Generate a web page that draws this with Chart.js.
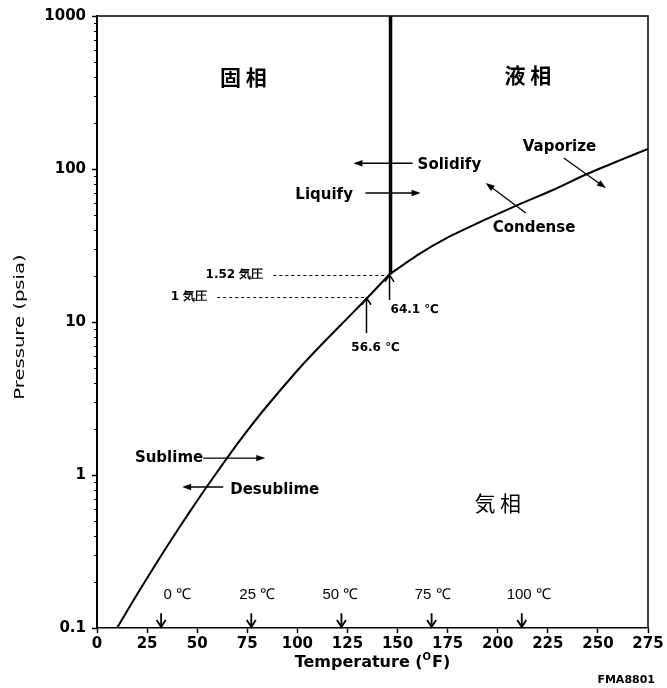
<!DOCTYPE html>
<html>
<head>
<meta charset="utf-8">
<script src="https://cdn.jsdelivr.net/npm/chart.js@4.4.1/dist/chart.umd.min.js"></script>
<style>
  html, body { margin: 0; padding: 0; background: #fff; }
  canvas { display: block; }
</style>
</head>
<body>
<canvas id="phaseChart" width="667" height="688"></canvas>
<script>
// sublimation curve (solid <-> gas), temperature in °F, pressure in psia
const sublimeTemp = [10, 20.5, 29, 37.5, 45.5, 54, 63, 70.5, 83, 100, 111.5, 125, 135, 146];
const sublimePress = [0.1, 0.170, 0.257, 0.385, 0.555, 0.81, 1.19, 1.63, 2.64, 4.82, 7.0, 10.6, 14.4, 20.5];

// vaporization curve (liquid <-> gas)
const vaporTemp = [146, 160.5, 174, 194, 209, 227.5, 244, 260.5, 275];
const vaporPress = [20.5, 27.7, 35.1, 46.8, 57.4, 72.9, 92.1, 113.4, 135.5];

// melting line (solid <-> liquid)
const meltTemp = [146.5, 146.5];
const meltPress = [20.5, 1000];

// reference pressures (dashed lines)
const atmLabels = ['1 気圧', '1.52 気圧'];
const atmPress = [14.5, 20.4];
const atmTempFrom = [60, 88];
const atmTempTo = [133.5, 146];

// celsius markers along the temperature axis
const celsiusLabels = ['0 ℃', '25 ℃', '50 ℃', '75 ℃', '100 ℃'];
const celsiusInF = [32, 77, 122, 167, 212];

// axis ticks
const xTicks = [0, 25, 50, 75, 100, 125, 150, 175, 200, 225, 250, 275];
const yTicks = [0.1, 1, 10, 100, 1000];
const yTickLabels = ['0.1', '1', '10', '100', '1000'];

function pts(xs, ys) {
    return xs.map((v, i) => ({ x: v, y: ys[i] }));
}

const BOLD = '"DejaVu Sans", sans-serif';

// annotation layout in data units (°F, psia)
const regionLabels = [
    { text: '固 相', t: 73, p: 400, font: 'bold 21px "Noto Sans CJK JP"' },
    { text: '液 相', t: 215, p: 411, font: 'bold 21px "Noto Sans CJK JP"' },
    { text: '気 相', t: 200, p: 0.656, font: '21px "Noto Sans CJK JP"' }
];
const processLabels = [
    { text: 'Solidify', t: 160, p: 106, align: 'left', arrow: [157.5, 109, 128, 109] },
    { text: 'Liquify', t: 99, p: 67.6, align: 'left', arrow: [134, 69.7, 161.5, 69.7] },
    { text: 'Vaporize', t: 212.5, p: 139, align: 'left', arrow: [233, 118, 254, 75] },
    { text: 'Condense', t: 197.5, p: 41, align: 'left', arrow: [214, 51.5, 194, 81] },
    { text: 'Sublime', t: 53, p: 1.29, align: 'right', arrow: [53, 1.29, 84, 1.29] },
    { text: 'Desublime', t: 66.5, p: 0.80, align: 'left', arrow: [63, 0.835, 42.5, 0.835] }
];
const celsiusLabelTemp = [40, 80, 121.5, 167.5, 215.5];

const annotate = {
    id: 'annotate',
    afterDatasetsDraw(chart) {
        const { ctx, chartArea: a, scales: { x, y } } = chart;
        const X = v => x.getPixelForValue(v);
        const Y = v => y.getPixelForValue(v);

        function text(str, px, py, font, align) {
            ctx.font = font;
            ctx.textAlign = align || 'center';
            ctx.textBaseline = 'middle';
            ctx.fillText(str, px, py);
        }

        // filled head
        function arrow(x1, y1, x2, y2) {
            const ang = Math.atan2(y2 - y1, x2 - x1);
            const len = 9, w = 3.2;
            ctx.lineWidth = 1.3;
            ctx.beginPath();
            ctx.moveTo(x1, y1);
            ctx.lineTo(x2 - Math.cos(ang) * len * 0.6, y2 - Math.sin(ang) * len * 0.6);
            ctx.stroke();
            ctx.beginPath();
            ctx.moveTo(x2, y2);
            ctx.lineTo(x2 - Math.cos(ang) * len - Math.sin(ang) * w, y2 - Math.sin(ang) * len + Math.cos(ang) * w);
            ctx.lineTo(x2 - Math.cos(ang) * len + Math.sin(ang) * w, y2 - Math.sin(ang) * len - Math.cos(ang) * w);
            ctx.closePath();
            ctx.fill();
        }

        // open V head
        function openArrow(x1, y1, x2, y2, width) {
            const ang = Math.atan2(y2 - y1, x2 - x1);
            const len = 7, w = 4.5;
            ctx.lineWidth = width;
            ctx.beginPath();
            ctx.moveTo(x1, y1);
            ctx.lineTo(x2, y2);
            ctx.moveTo(x2 - Math.cos(ang) * len - Math.sin(ang) * w, y2 - Math.sin(ang) * len + Math.cos(ang) * w);
            ctx.lineTo(x2, y2);
            ctx.lineTo(x2 - Math.cos(ang) * len + Math.sin(ang) * w, y2 - Math.sin(ang) * len - Math.cos(ang) * w);
            ctx.stroke();
        }

        ctx.save();
        ctx.fillStyle = '#000';
        ctx.strokeStyle = '#000';

        // frame top and right
        ctx.lineWidth = 1.5;
        ctx.beginPath();
        ctx.moveTo(a.left, a.top);
        ctx.lineTo(a.right, a.top);
        ctx.lineTo(a.right, a.bottom);
        ctx.stroke();

        // minor log ticks on the pressure axis
        ctx.lineWidth = 1;
        ctx.beginPath();
        for (let e = -1; e < 3; e++) {
            for (let m = 2; m < 10; m++) {
                const py = Math.round(Y(m * Math.pow(10, e))) + 0.5;
                ctx.moveTo(a.left - 3, py);
                ctx.lineTo(a.left, py);
            }
        }
        ctx.stroke();

        // dashed reference pressures
        ctx.lineWidth = 1;
        ctx.setLineDash([3, 3]);
        ctx.beginPath();
        atmPress.forEach((p, i) => {
            const py = Math.round(Y(p)) + 0.5;
            ctx.moveTo(X(atmTempFrom[i]), py);
            ctx.lineTo(X(atmTempTo[i]), py);
        });
        ctx.stroke();
        ctx.setLineDash([]);
        atmLabels.forEach((s, i) => {
            text(s, X(atmTempFrom[i]) - 10, Y(atmPress[i]), 'bold 12px ' + BOLD, 'right');
        });

        // region names
        regionLabels.forEach(r => text(r.text, X(r.t), Y(r.p), r.font));

        // process labels with arrows
        processLabels.forEach(l => {
            text(l.text, X(l.t), Y(l.p), 'bold 15px ' + BOLD, l.align);
            const [t1, p1, t2, p2] = l.arrow;
            arrow(X(t1), Y(p1), X(t2), Y(p2));
        });

        // triple point and normal sublimation point
        openArrow(X(146), Y(13.9), X(146), Y(20.3), 1.5);
        text('64.1 ℃', X(146.5), Y(12.0), 'bold 12px ' + BOLD, 'left');
        openArrow(X(134.5), Y(8.47), X(134.5), Y(14.4), 1.5);
        text('56.6 ℃', X(139), Y(6.76), 'bold 12px ' + BOLD, 'center');

        // celsius markers
        celsiusInF.forEach((t, i) => {
            openArrow(X(t), Y(0.125), X(t), Y(0.1015), 1.8);
            text(celsiusLabels[i], X(celsiusLabelTemp[i]), Y(0.164), '15px "Liberation Sans", sans-serif');
        });

        // x axis title with superscript O
        ctx.font = 'bold 16px ' + BOLD;
        const p1 = 'Temperature (', p3 = 'F)';
        const w1 = ctx.measureText(p1).width, w3 = ctx.measureText(p3).width;
        ctx.font = 'bold 10px ' + BOLD;
        const w2 = ctx.measureText('O').width + 1;
        let tx = (a.left + a.right) / 2 - (w1 + w2 + w3) / 2;
        const ty = a.bottom + 35;
        ctx.textAlign = 'left';
        ctx.textBaseline = 'middle';
        ctx.font = 'bold 16px ' + BOLD;
        ctx.fillText(p1, tx, ty);
        ctx.font = 'bold 10px ' + BOLD;
        ctx.fillText('O', tx + w1, ty - 6);
        ctx.font = 'bold 16px ' + BOLD;
        ctx.fillText(p3, tx + w1 + w2, ty);

        // y axis title
        ctx.save();
        ctx.translate(20, (a.top + a.bottom) / 2 + 5);
        ctx.rotate(-Math.PI / 2);
        ctx.scale(1.4, 1);
        text('Pressure (psia)', 0, 0, '14px "DejaVu Sans", sans-serif');
        ctx.restore();

        // figure id
        text('FMA8801', 655, 680, 'bold 11px ' + BOLD, 'right');

        ctx.restore();
    }
};

const lineStyle = {
    showLine: true,
    borderColor: '#000',
    backgroundColor: '#000',
    pointRadius: 0,
    fill: false,
    tension: 0.2,
    borderJoinStyle: 'round'
};

new Chart(document.getElementById('phaseChart'), {
    type: 'scatter',
    data: {
        datasets: [
            Object.assign({ data: pts(sublimeTemp, sublimePress), borderWidth: 2 }, lineStyle),
            Object.assign({ data: pts(vaporTemp, vaporPress), borderWidth: 2 }, lineStyle),
            Object.assign({ data: pts(meltTemp, meltPress), borderWidth: 3.5, tension: 0 }, lineStyle)
        ]
    },
    options: {
        responsive: false,
        animation: false,
        devicePixelRatio: 1,
        layout: { padding: { top: 16, right: 19, left: 0, bottom: 0 } },
        plugins: {
            legend: { display: false },
            tooltip: { enabled: false }
        },
        scales: {
            x: {
                type: 'linear',
                min: 0,
                max: 275,
                afterBuildTicks: s => { s.ticks = xTicks.map(v => ({ value: v })); },
                afterFit: s => { s.height = 60; },
                ticks: {
                    color: '#000',
                    font: { family: 'DejaVu Sans', weight: 'bold', size: 15 },
                    padding: 2,
                    maxRotation: 0,
                    autoSkip: false
                },
                grid: { drawOnChartArea: false, tickLength: 5, tickColor: '#000', tickWidth: 1.5 },
                border: { color: '#000', width: 1.5 }
            },
            y: {
                type: 'logarithmic',
                min: 0.1,
                max: 1000,
                afterBuildTicks: s => { s.ticks = yTicks.map(v => ({ value: v })); },
                afterFit: s => { s.width = 97; },
                ticks: {
                    color: '#000',
                    font: { family: 'DejaVu Sans', weight: 'bold', size: 15 },
                    padding: 6,
                    autoSkip: false,
                    callback: (v, i) => yTickLabels[i]
                },
                grid: { drawOnChartArea: false, tickLength: 5, tickColor: '#000', tickWidth: 1.5 },
                border: { color: '#000', width: 2 }
            }
        }
    },
    plugins: [annotate]
});
</script>
</body>
</html>
